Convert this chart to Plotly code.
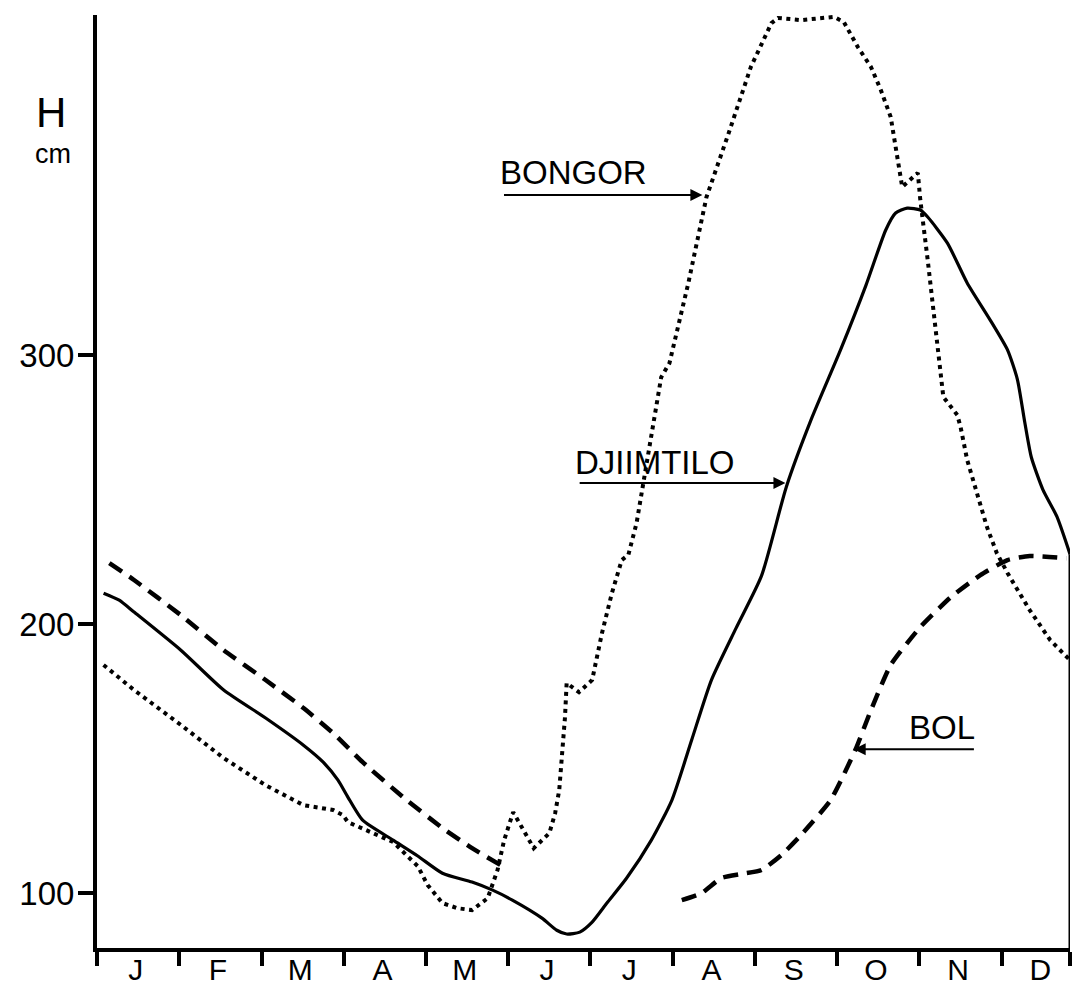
import plotly.graph_objects as go

# x in months from 1 January (0 = start of Jan, 12 = end of Dec)
months = ["J", "F", "M", "A", "M", "J", "J", "A", "S", "O", "N", "D"]
y_ticks = [100, 200, 300]

bongor_x = [0.08, 0.45, 1.02, 1.54, 2.05, 2.51, 2.87, 2.99, 3.05, 3.6, 3.9, 4.02, 4.2, 4.38,
            4.56, 4.75, 4.87, 4.95, 5.06, 5.31, 5.5, 5.57, 5.62, 5.69, 5.71, 5.86, 6.02, 6.14,
            6.26, 6.38, 6.46, 6.56, 6.86, 6.96, 7.19, 7.41, 7.68, 7.95, 8.2, 8.28, 8.56, 8.96,
            9.08, 9.25, 9.41, 9.53, 9.65, 9.75, 9.79, 9.98, 10.01, 10.1, 10.17, 10.23, 10.29,
            10.46, 10.5, 10.58, 10.7, 10.82, 10.94, 11.07, 11.34, 11.59, 11.83]
bongor_h = [184.8, 175.5, 162.5, 150.2, 140.1, 132.7, 130.9, 129, 126.4, 119, 110, 103, 96.3, 94.4,
            93.7, 98.1, 108.6, 119.7, 130.1, 116.7, 122.3, 129.7, 138.3, 165.4, 178.1, 174.7, 179.2, 196.7,
            211.5, 223.8, 225.7, 237.5, 291.8, 297, 326.8, 358.7, 382.5, 407.1, 423.4, 425.3, 424.5, 425.7,
            423.8, 414.5, 407.1, 398.5, 388.5, 371.4, 362.5, 367.7, 357.6, 335.3, 316.7, 298.1, 284.4,
            277.7, 273.2, 261, 248.7, 236.1, 226.4, 219, 205.2, 194, 186.6]

djimtilo_x = [0.08, 0.27, 0.45, 1.02, 1.54, 2.05, 2.51, 2.75, 2.93, 3.05, 3.23, 3.6, 3.9, 4.2, 4.56,
              4.81, 5.05, 5.41, 5.59, 5.71, 5.87, 6.02, 6.2, 6.44, 6.74, 6.99, 7.23, 7.47, 7.77, 8.08,
              8.38, 8.68, 9.04, 9.35, 9.59, 9.71, 9.85, 10.01, 10.1, 10.34, 10.58, 10.86, 11.07, 11.19,
              11.28, 11.36, 11.5, 11.67, 11.83]
djimtilo_h = [211.5, 208.9, 204.5, 190.3, 175.5, 165.1, 155, 148.7, 142, 135.7, 127.1, 119.7, 113.8, 107.4, 104.1,
              101.1, 97.4, 90.7, 86.2, 84.8, 85.5, 89.2, 96.3, 105.6, 119.7, 134.6, 156.9, 179.2, 198.5, 218,
              250.9, 275.8, 301.9, 326, 346.5, 352.8, 354.6, 353.9, 351.3, 341.6, 326.8, 313, 301.9, 291,
              275, 262, 250, 240, 226]

bol_x = [0.15, 0.45, 1.02, 1.54, 2.05, 2.51, 2.87, 3.23, 3.72, 4.2, 4.56, 4.93, None,
         7.11, 7.35, 7.59, 7.83, 8.08, 8.32, 8.56, 8.92, 9.22, 9.41, 9.65, 10.01, 10.38, 10.74,
         11.07, 11.34, 11.79]
bol_h = [222.7, 216.4, 203.3, 190.3, 179.2, 168.8, 159.5, 148.7, 135.7, 124.2, 116.7, 110, None,
         97.4, 100, 105.6, 107.1, 108.6, 114.1, 121.6, 134.6, 153.2, 168, 184.8, 198.9, 210, 218.2,
         223.8, 225.3, 224.5]

FONT = "Liberation Sans, Arial, sans-serif"
X_END = 11.83
Y_MIN, Y_MAX = 79.6, 426.4
ML, MR, MT, MB = 97, 5, 15, 48
FIG_W, FIG_H = 1075, 996

fig = go.Figure()
fig.add_trace(go.Scatter(x=bol_x, y=bol_h, mode="lines", name="BOL", connectgaps=False,
                         line=dict(color="black", width=4.5, dash="15px,9px", shape="spline", smoothing=0.5)))
fig.add_trace(go.Scatter(x=djimtilo_x, y=djimtilo_h, mode="lines", name="DJIMTILO",
                         line=dict(color="black", width=3.2, shape="spline", smoothing=0.6)))
fig.add_trace(go.Scatter(x=bongor_x, y=bongor_h, mode="lines", name="BONGOR",
                         line=dict(color="black", width=4, dash="4px,4.5px")))

# right border of the frame
fig.add_shape(type="line", xref="x", yref="y", x0=X_END, x1=X_END, y0=djimtilo_h[-1], y1=Y_MIN,
              line=dict(color="black", width=3))

ann_font = dict(family=FONT, size=33, color="black")
arrow_common = dict(showarrow=True, arrowhead=2, arrowsize=1.2, arrowwidth=2, arrowcolor="black",
                    axref="x", ayref="y", xref="x", yref="y", text="")
# BONGOR label + arrow
fig.add_annotation(x=7.36, y=359.5, ax=4.93, ay=359.5, **arrow_common)
fig.add_annotation(x=4.88, y=367.8, text="BONGOR", showarrow=False, xanchor="left", yanchor="middle",
                   font=ann_font, xref="x", yref="y")
# DJIMTILO label + arrow
fig.add_annotation(x=8.37, y=252.4, ax=5.85, ay=252.4, **arrow_common)
fig.add_annotation(x=5.79, y=260, text="DJIIMTILO", showarrow=False, xanchor="left", yanchor="middle",
                   font=ann_font, xref="x", yref="y")
# BOL label + arrow
fig.add_annotation(x=9.2, y=153.5, ax=10.68, ay=153.5, **arrow_common)
fig.add_annotation(x=9.85, y=161.7, text="BOL", showarrow=False, xanchor="left", yanchor="middle",
                   font=ann_font, xref="x", yref="y")

# axis title H / cm, placed in pixel terms via paper coords
W = FIG_W - ML - MR
H = FIG_H - MT - MB
def px_to_paper(px, py):
    return (px - ML) / W, 1 - (py - MT) / H
hx, hy = px_to_paper(51, 112)
cx, cy = px_to_paper(53, 154)
fig.add_annotation(x=hx, y=hy, xref="paper", yref="paper", text="H", showarrow=False,
                   xanchor="center", yanchor="middle",
                   font=dict(family=FONT, size=42, color="black"))
fig.add_annotation(x=cx, y=cy, xref="paper", yref="paper", text="cm", showarrow=False,
                   xanchor="center", yanchor="middle",
                   font=dict(family=FONT, size=27, color="black"))

fig.update_layout(
    width=FIG_W, height=FIG_H,
    margin=dict(l=ML, r=MR, t=MT, b=MB, autoexpand=False),
    paper_bgcolor="white", plot_bgcolor="white",
    showlegend=False,
    font=dict(family=FONT, color="black"),
    xaxis=dict(range=[0, X_END], showgrid=False, zeroline=False, automargin=False,
               showline=True, linecolor="black", linewidth=4,
               tickmode="array", tickvals=[i + 0.47 for i in range(len(months))], ticktext=months,
               ticks="", ticklabelstandoff=-8, tickfont=dict(family=FONT, size=30, color="black"),
               minor=dict(tickmode="array", tickvals=list(range(12)) + [X_END], ticks="outside",
                          ticklen=14, tickwidth=3.5, tickcolor="black", showgrid=False)),
    yaxis=dict(range=[Y_MIN, Y_MAX], showgrid=False, zeroline=False, automargin=False,
               showline=True, linecolor="black", linewidth=4,
               tickmode="array", tickvals=y_ticks, ticks="outside", ticklen=15, tickwidth=3.5,
               tickcolor="black", ticklabelstandoff=-3,
               tickfont=dict(family=FONT, size=33, color="black")),
)

fig.write_html("out.html")
